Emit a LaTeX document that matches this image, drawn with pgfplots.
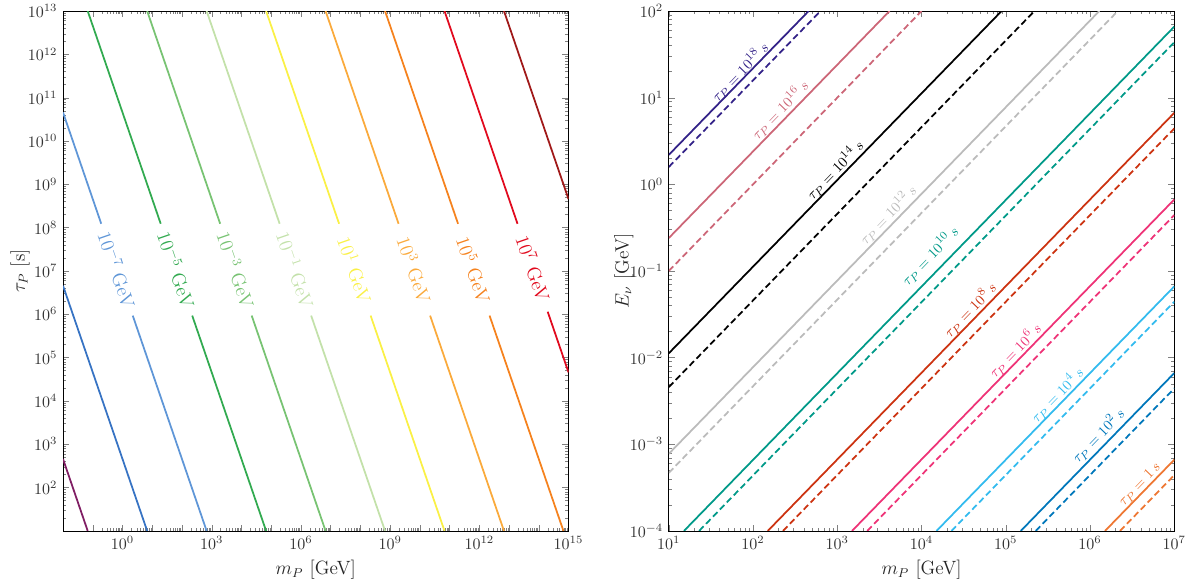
\documentclass[border=0pt]{standalone}
\usepackage{pgfplots}
\pgfplotsset{compat=1.18}

% left panel (contours of fixed energy)
\definecolor{cA}{RGB}{128,30,100}
\definecolor{cB}{RGB}{55,115,195}
\definecolor{cC}{RGB}{95,150,215}
\definecolor{cD}{RGB}{50,170,80}
\definecolor{cE}{RGB}{120,195,115}
\definecolor{cF}{RGB}{195,225,170}
\definecolor{cG}{RGB}{250,240,70}
\definecolor{cH}{RGB}{250,170,60}
\definecolor{cI}{RGB}{245,130,30}
\definecolor{cJ}{RGB}{225,10,30}
\definecolor{cK}{RGB}{160,25,25}
% right panel (fixed lifetime)
\definecolor{tIndigo}{HTML}{332288}
\definecolor{tRose}{HTML}{CC6677}
\definecolor{tGrey}{HTML}{BBBBBB}
\definecolor{tTeal}{HTML}{009988}
\definecolor{tRed}{HTML}{CC3311}
\definecolor{tMag}{HTML}{EE3377}
\definecolor{tCyan}{HTML}{33BBEE}
\definecolor{tBlue}{HTML}{0077BB}
\definecolor{tOrange}{HTML}{EE7733}

\tikzset{
  labL/.style={rotate=-71, inner sep=0pt, font=\fontsize{12}{14}\selectfont},
  labR/.style={rotate=46, inner sep=0pt, font=\fontsize{9.5}{11}\selectfont},
  dsh/.style={dash pattern=on 4pt off 2.2pt},
}

\begin{document}
\begin{tikzpicture}
\begin{axis}[name=L,
  scale only axis, width=316pt, height=325pt,
  xmode=log, ymode=log,
  tick align=inside, xtick pos=both, ytick pos=both,
  major tick length=4pt, minor tick length=2pt,
  tick label style={font=\normalsize, text=black!80},
  label style={font=\large, text=black!85},
  ylabel shift=-8pt,
  every axis plot/.append style={line width=1.1pt},
  xmin=1e-2, xmax=1e15, ymin=10, ymax=1e13,
  xtick={1e-1,1e0,1e1,1e2,1e3,1e4,1e5,1e6,1e7,1e8,1e9,1e10,1e11,1e12,1e13,1e14,1e15},
  xticklabels={,$10^{0}$,,,$10^{3}$,,,$10^{6}$,,,$10^{9}$,,,$10^{12}$,,,$10^{15}$},
  ytick={1e1,1e2,1e3,1e4,1e5,1e6,1e7,1e8,1e9,1e10,1e11,1e12,1e13},
  yticklabels={,$10^{2}$,$10^{3}$,$10^{4}$,$10^{5}$,$10^{6}$,$10^{7}$,$10^{8}$,$10^{9}$,$10^{10}$,$10^{11}$,$10^{12}$,$10^{13}$},
  xlabel={$m_P$ [GeV]}, ylabel={$\tau_P$ [s]},
]
\addplot[cA] coordinates {(0.01,457.1) (0.06761,10)};
\addplot[cB] coordinates {(0.01,4.571e6) (6.761,10)};
\addplot[cC] coordinates {(0.01,4.571e10) (0.1928,1.23e8)};
\addplot[cC] coordinates {(2.213,9.33e5) (676.1,10)};
\addplot[cD] coordinates {(0.06761,1e13) (19.28,1.23e8)};
\addplot[cD] coordinates {(221.3,9.33e5) (6.761e4,10)};
\addplot[cE] coordinates {(6.761,1e13) (1928,1.23e8)};
\addplot[cE] coordinates {(2.213e4,9.33e5) (6.761e6,10)};
\addplot[cF] coordinates {(676.1,1e13) (1.928e5,1.23e8)};
\addplot[cF] coordinates {(2.213e6,9.33e5) (6.761e8,10)};
\addplot[cG] coordinates {(6.761e4,1e13) (1.928e7,1.23e8)};
\addplot[cG] coordinates {(2.213e8,9.33e5) (6.761e10,10)};
\addplot[cH] coordinates {(6.761e6,1e13) (1.928e9,1.23e8)};
\addplot[cH] coordinates {(2.213e10,9.33e5) (6.761e12,10)};
\addplot[cI] coordinates {(6.761e8,1e13) (1.928e11,1.23e8)};
\addplot[cI] coordinates {(2.213e12,9.33e5) (6.761e14,10)};
\addplot[cJ] coordinates {(6.761e10,1e13) (1.928e13,1.23e8)};
\addplot[cJ] coordinates {(1.995e14,1.148e6) (1e15,4.571e4)};
\addplot[cK] coordinates {(6.761e12,1e13) (1e15,4.571e8)};
\node[labL, text=cC] at (axis cs:0.653,1.07e7) {$10^{-7}$ GeV};
\node[labL, text=cD] at (axis cs:65.3,1.07e7) {$10^{-5}$ GeV};
\node[labL, text=cE] at (axis cs:6531,1.07e7) {$10^{-3}$ GeV};
\node[labL, text=cF] at (axis cs:6.53e5,1.07e7) {$10^{-1}$ GeV};
\node[labL, text=cG] at (axis cs:6.53e7,1.07e7) {$10^{1}$ GeV};
\node[labL, text=cH] at (axis cs:6.53e9,1.07e7) {$10^{3}$ GeV};
\node[labL, text=cI] at (axis cs:6.53e11,1.07e7) {$10^{5}$ GeV};
\node[labL, text=cJ] at (axis cs:6.53e13,1.15e7) {$10^{7}$ GeV};
\end{axis}

\begin{axis}[name=R, at={(L.south east)}, anchor=south west, xshift=62.7pt,
  scale only axis, width=316pt, height=325pt,
  xmode=log, ymode=log,
  tick align=inside, xtick pos=both, ytick pos=both,
  major tick length=4pt, minor tick length=2pt,
  tick label style={font=\normalsize, text=black!80},
  label style={font=\large, text=black!85},
  ylabel shift=-9pt,
  every axis plot/.append style={line width=1.1pt},
  xmin=10, xmax=1e7, ymin=1e-4, ymax=1e2,
  xlabel={$m_P$ [GeV]}, ylabel={$E_\nu$ [GeV]},
]
\addplot[tIndigo] coordinates {(10,2.188) (457.1,100)};
\addplot[tIndigo,dsh] coordinates {(10,1.585) (631.0,100)};
\addplot[tRose] coordinates {(10,0.2399) (4169,100)};
\addplot[tRose,dsh] coordinates {(10,0.1) (1e4,100)};
\addplot[black] coordinates {(10,0.01122) (8.913e4,100)};
\addplot[black,dsh] coordinates {(10,4.571e-3) (2.188e5,100)};
\addplot[tGrey] coordinates {(10,7.762e-4) (1.288e6,100)};
\addplot[tGrey,dsh] coordinates {(10,4.677e-4) (2.138e6,100)};
\addplot[tTeal] coordinates {(15.14,1e-4) (1e7,66.07)};
\addplot[tTeal,dsh] coordinates {(22.91,1e-4) (1e7,43.65)};
\addplot[tRed] coordinates {(149.6,1e-4) (1e7,6.683)};
\addplot[tRed,dsh] coordinates {(226.5,1e-4) (1e7,4.416)};
\addplot[tMag] coordinates {(1496,1e-4) (1e7,0.6683)};
\addplot[tMag,dsh] coordinates {(2265,1e-4) (1e7,0.4416)};
\addplot[tCyan] coordinates {(1.507e4,1e-4) (1e7,0.06637)};
\addplot[tCyan,dsh] coordinates {(2.265e4,1e-4) (1e7,0.04416)};
\addplot[tBlue] coordinates {(1.507e5,1e-4) (1e7,6.637e-3)};
\addplot[tBlue,dsh] coordinates {(2.265e5,1e-4) (1e7,4.416e-3)};
\addplot[tOrange] coordinates {(1.507e6,1e-4) (1e7,6.637e-4)};
\addplot[tOrange,dsh] coordinates {(2.270e6,1e-4) (1e7,4.406e-4)};
\node[labR, text=tIndigo] at (axis cs:69.7,19.77) {$\tau_P = 10^{18}\,s$};
\node[labR, text=tRose] at (axis cs:208,7.21) {$\tau_P = 10^{16}\,s$};
\node[labR, text=black] at (axis cs:935,1.466) {$\tau_P = 10^{14}\,s$};
\node[labR, text=tGrey] at (axis cs:3981,0.4436) {$\tau_P = 10^{12}\,s$};
\node[labR, text=tTeal] at (axis cs:1.259e4,0.1493) {$\tau_P = 10^{10}\,s$};
\node[labR, text=tRed] at (axis cs:3.758e4,0.03556) {$\tau_P = 10^{8}\,s$};
\node[labR, text=tMag] at (axis cs:1.285e5,0.01202) {$\tau_P = 10^{6}\,s$};
\node[labR, text=tCyan] at (axis cs:4.055e5,3.715e-3) {$\tau_P = 10^{4}\,s$};
\node[labR, text=tBlue] at (axis cs:1.245e6,1.259e-3) {$\tau_P = 10^{2}\,s$};
\node[labR, text=tOrange] at (axis cs:3.926e6,3.412e-4) {$\tau_P = 1\,s$};
\end{axis}

\pgfresetboundingbox
\path ([xshift=-39.4pt,yshift=-31.3pt]L.south west) rectangle ([xshift=11.7pt,yshift=6.9pt]R.north east);
\end{tikzpicture}
\end{document}
